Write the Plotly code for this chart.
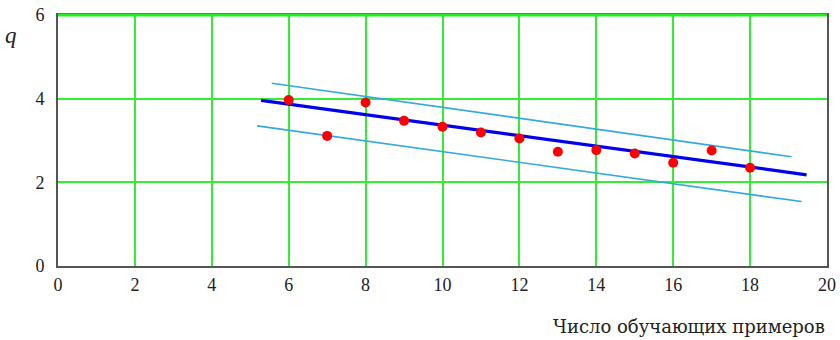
import plotly.graph_objects as go

# Data
n_examples = [6, 7, 8, 9, 10, 11, 12, 13, 14, 15, 16, 17, 18]
q_values = [3.97, 3.11, 3.91, 3.47, 3.33, 3.19, 3.05, 2.73, 2.77, 2.69, 2.47, 2.76, 2.35]

fit_x = [5.28, 19.47]
fit_q = [3.96, 2.18]

upper_x = [5.56, 19.08]
upper_q = [4.37, 2.61]

lower_x = [5.18, 19.34]
lower_q = [3.35, 1.54]

x_ticks = [0, 2, 4, 6, 8, 10, 12, 14, 16, 18, 20]
y_ticks = [0, 2, 4, 6]

x_title = "Число обучающих примеров"
y_title = "q"

fig = go.Figure()

fig.add_trace(go.Scatter(x=upper_x, y=upper_q, mode="lines",
                         line=dict(color="#33aadd", width=1.6), hoverinfo="skip"))
fig.add_trace(go.Scatter(x=lower_x, y=lower_q, mode="lines",
                         line=dict(color="#33aadd", width=1.6), hoverinfo="skip"))
fig.add_trace(go.Scatter(x=fit_x, y=fit_q, mode="lines",
                         line=dict(color="#0000ee", width=3.2)))
fig.add_trace(go.Scatter(x=n_examples, y=q_values, mode="markers",
                         marker=dict(color="#ff0000", size=10, line=dict(width=0))))

serif = "Liberation Serif"
axis_font = dict(family=serif, size=18, color="#222222")

fig.update_layout(
    width=840, height=340,
    margin=dict(l=58, r=13, t=15, b=74, autoexpand=False),
    paper_bgcolor="white", plot_bgcolor="white",
    showlegend=False,
    xaxis=dict(range=[0, 20], tickvals=x_ticks, ticktext=[str(v) for v in x_ticks],
               showgrid=True, gridcolor="#33ee33", gridwidth=1.6,
               zeroline=False, showline=True, linecolor="#555555", linewidth=2,
               mirror=True, ticks="", tickfont=axis_font, ticklabelstandoff=1,
               automargin=False),
    yaxis=dict(range=[0, 6], tickvals=y_ticks, ticktext=[str(v) for v in y_ticks],
               showgrid=True, gridcolor="#33ee33", gridwidth=1.6,
               zeroline=False, showline=True, linecolor="#555555", linewidth=2,
               mirror=True, ticks="", tickfont=axis_font, ticklabelstandoff=8,
               automargin=False),
    shapes=[dict(type="line", xref="paper", yref="paper", x0=0, x1=1, y0=1, y1=1,
                 line=dict(color="#22ee22", width=3), layer="above")],
    annotations=[
        dict(text="<i>" + y_title + "</i>", xref="paper", yref="paper", x=-0.061, y=0.92,
             xanchor="center", yanchor="middle", showarrow=False,
             font=dict(family=serif, size=23, color="#222222")),
        dict(text=x_title, xref="paper", yref="paper", x=1.0, y=-0.24,
             xanchor="right", yanchor="middle", showarrow=False,
             font=dict(family="DejaVu Serif", size=18, color="#222222")),
    ],
)

fig.write_html("out.html", config={"displayModeBar": False},
               post_script="document.body.style.margin='0';document.body.style.overflow='hidden';")
